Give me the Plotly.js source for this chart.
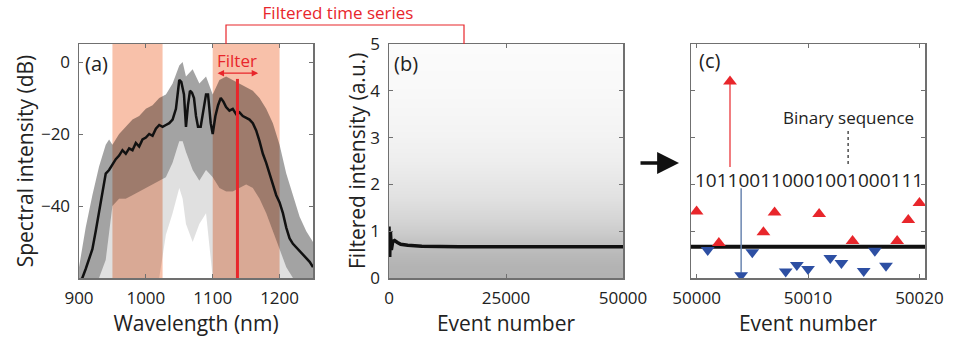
<!DOCTYPE html>
<html>
<head>
<meta charset="utf-8">
<script src="https://cdn.plot.ly/plotly-3.0.1.min.js"></script>
<style>html,body{margin:0;padding:0;background:#fff;}#chart{width:954px;height:337px;}</style>
</head>
<body>
<div id="chart"></div>
<script>
// ---------- Panel (a): spectra ----------
const meanWl = [900,905,910,915,920,925,930,935,940,945,950,955,960,965,970,975,980,985,990,995,1000,1005,1010,1015,1020,1025,1030,1035,1040,1045,1050,1053,1057,1060,1063,1066,1069,1072,1075,1078,1082,1086,1090,1093,1097,1100,1104,1108,1112,1116,1120,1125,1130,1135,1140,1145,1150,1155,1160,1165,1170,1175,1180,1185,1190,1195,1200,1205,1210,1215,1220,1225,1230,1235,1240,1245,1250];
const meanDb = [-61,-60,-57.5,-55,-52,-47,-42,-36,-31,-30,-28.5,-27,-26,-24.5,-25.5,-24,-24.5,-22.5,-23.5,-21.5,-21,-20,-20.5,-18.5,-17.5,-18,-17.5,-17,-16,-13,-5,-5.5,-9,-18,-12,-8,-8.5,-10,-15,-18,-18,-14,-9,-9,-17,-20,-15,-12,-10,-11,-12.5,-13.5,-13,-14.5,-14,-15,-15.5,-16,-17,-19,-22,-25.5,-28,-31,-34,-37,-39,-42,-46,-49,-50.5,-51.5,-52.5,-53.5,-54.5,-55.5,-57];
const envWl = [900,910,920,930,940,945,950,960,970,980,990,1000,1010,1020,1030,1040,1050,1055,1060,1070,1080,1090,1100,1110,1120,1130,1140,1150,1160,1170,1180,1190,1200,1210,1220,1230,1240,1250];
const upperDb = [-57,-46,-37,-29,-23,-21.5,-23,-20,-18,-16,-15,-13,-12,-10,-9,-6,-1,0,-4,-2,-6,-4,-9,-5,-4,-5,-6,-7,-8,-10,-13,-17,-23,-31,-37,-43,-47,-50];
const denseLowerDb = [-60,-60,-60,-60,-55,-48,-40,-38,-38,-37,-36,-35,-34,-33,-32,-28,-22,-22,-25,-30,-33,-30,-32,-35,-36,-36,-35,-34,-35,-38,-42,-47,-52,-57,-60,-60,-60,-60];
const sparseLowerDb = [-60,-60,-60,-60,-60,-60,-60,-60,-60,-60,-60,-60,-60,-60,-48,-42,-35,-38,-45,-50,-45,-42,-60,-60,-60,-60,-60,-60,-60,-60,-60,-60,-60,-60,-60,-60,-60,-60];
const bandsWl = [[950,1025],[1100,1200]];
const filterWl = 1137;
const filterTopDb = -4.7;

// ---------- Panel (b): filtered time series ----------
const intensityLevels = [0,0.25,0.5,0.75,1,1.25,1.5,1.75,2,2.25,2.5,2.75,3,3.25,3.5,3.75,4,4.25,4.5,4.75,5];
const pointDensity = [0.58,0.57,0.53,0.46,0.38,0.32,0.27,0.22,0.19,0.16,0.13,0.11,0.095,0.08,0.07,0.06,0.05,0.045,0.04,0.035,0.03];
const runEvents = [0,150,300,500,800,1200,1800,2500,4000,7000,15000,30000,50000];
const runMean = [1.1,0.45,1.0,0.6,0.78,0.8,0.76,0.72,0.7,0.68,0.67,0.67,0.67];

// ---------- Panel (c): binarisation ----------
const cEvents = [50000,50001,50002,50003,50004,50005,50006,50007,50008,50009,50010,50011,50012,50013,50014,50015,50016,50017,50018,50019,50020];
const cValues = [1.42,0.6,0.75,4.2,0.06,0.55,0.98,1.4,0.14,0.28,0.19,1.37,0.43,0.32,0.79,0.15,0.58,0.26,0.79,1.24,1.6];
const threshold = 0.67;

const FONT = "Open Sans, Lato, sans-serif";
const RED = '#e8262b';
const BLUE = '#2d4fa3';
const AX = '#707070';

const hiX = [], hiY = [], loX = [], loY = [];
cEvents.forEach((e,i)=>{ if (cValues[i] > threshold){hiX.push(e);hiY.push(cValues[i]);} else {loX.push(e);loY.push(cValues[i]);} });
const bits = cValues.map(v => v > threshold ? '1' : '0').join('');

const traces = [
  {x: envWl, y: sparseLowerDb, xaxis:'x', yaxis:'y', mode:'lines', line:{width:0}, hoverinfo:'skip', showlegend:false},
  {x: envWl, y: denseLowerDb, xaxis:'x', yaxis:'y', mode:'lines', line:{width:0}, fill:'tonexty', fillcolor:'rgba(0,0,0,0.12)', showlegend:false},
  {x: envWl, y: upperDb, xaxis:'x', yaxis:'y', mode:'lines', line:{width:0}, fill:'tonexty', fillcolor:'rgba(0,0,0,0.36)', showlegend:false},
  {x: meanWl, y: meanDb, xaxis:'x', yaxis:'y', mode:'lines', line:{color:'#111', width:2.5}, showlegend:false},
  {x: [filterWl, filterWl], y: [filterTopDb, -60], xaxis:'x', yaxis:'y', mode:'lines', line:{color:RED, width:3}, showlegend:false},

  {type:'heatmap', x:[0,50000], y:intensityLevels, z: pointDensity.map(d=>[d,d]), xaxis:'x2', yaxis:'y2', zsmooth:'best',
   colorscale:[[0,'#ffffff'],[1,'#7a7a7a']], zmin:0, zmax:1, showscale:false, hoverinfo:'skip'},
  {x: runEvents, y: runMean, xaxis:'x2', yaxis:'y2', mode:'lines', line:{color:'#111', width:3.5}, showlegend:false},

  {x: [cEvents[0]-0.5, cEvents[cEvents.length-1]+0.5], y:[threshold, threshold], xaxis:'x3', yaxis:'y3', mode:'lines', line:{color:'#111', width:4}, showlegend:false},
  {x: [cEvents[3], cEvents[3]], y: [cValues[3]-0.05, 2.37], xaxis:'x3', yaxis:'y3', mode:'lines', line:{color:RED, width:1.2}, showlegend:false},
  {x: [cEvents[4], cEvents[4]], y: [1.92, cValues[4]+0.05], xaxis:'x3', yaxis:'y3', mode:'lines', line:{color:'#6b86b0', width:1.5}, showlegend:false},
  {x: [50013.6, 50013.6], y: [3.14, 2.39], xaxis:'x3', yaxis:'y3', mode:'lines', line:{color:'#222', width:1.2, dash:'dot'}, showlegend:false},
  {x: hiX, y: hiY, xaxis:'x3', yaxis:'y3', mode:'markers', marker:{symbol:'triangle-up', size:12, color:RED}, showlegend:false},
  {x: loX, y: loY, xaxis:'x3', yaxis:'y3', mode:'markers', marker:{symbol:'triangle-down', size:12, color:BLUE}, showlegend:false}
];

const W = 954, H = 337;
const px = v => v / W, py = v => 1 - v / H;
const yDom = [py(278), py(44)];
function axBase(extra){
  return Object.assign({showline:true, linecolor:AX, linewidth:1.5, mirror:'ticks', ticks:'inside', ticklen:4, tickcolor:AX, tickwidth:1,
    zeroline:false, showgrid:false, tickfont:{family:FONT, size:17, color:'#222'}, ticklabelstandoff:4, tickformat:'d'}, extra);
}
const titleFont = {family:FONT, size:21, color:'#222'};

const layout = {
  width: W, height: H, margin:{l:0,r:0,t:0,b:0}, paper_bgcolor:'#fff', plot_bgcolor:'rgba(0,0,0,0)',
  font:{family:FONT, color:'#222'}, showlegend:false,
  title:{text:'Filtered time series', x:px(338), y:py(13), xanchor:'center', yanchor:'middle', xref:'paper', yref:'paper', font:{family:FONT, size:17, color:RED}},
  xaxis: axBase({domain:[px(79), px(313)], range:[900,1250], tickvals:[900,1000,1100,1200], title:{text:'Wavelength (nm)', font:titleFont, standoff:6}}),
  yaxis: axBase({domain:yDom, range:[-60,5], tickvals:[-40,-20,0], title:{text:'Spectral intensity (dB)', font:titleFont, standoff:1}}),
  xaxis2: axBase({domain:[px(389), px(623)], range:[0,50000], tickvals:[0,25000,50000], anchor:'y2', title:{text:'Event number', font:titleFont, standoff:6}}),
  yaxis2: axBase({domain:yDom, range:[0,5], tickvals:[0,1,2,3,4,5], anchor:'x2'}),
  xaxis3: axBase({domain:[px(691), px(925)], range:[49999.5,50020.5], tickvals:[50000,50010,50020], anchor:'y3', title:{text:'Event number', font:titleFont, standoff:6}}),
  yaxis3: axBase({domain:yDom, range:[0,5], tickvals:[1,2,3,4], showticklabels:false, anchor:'x3'}),
  shapes: [
    ...bandsWl.map(b => ({type:'rect', xref:'x', yref:'y', x0:b[0], x1:b[1], y0:-60, y1:5, fillcolor:'#f8c1aa', line:{width:0}, layer:'below'})),
    {type:'path', xref:'paper', yref:'paper', path:`M ${px(226)} ${py(44)} L ${px(226)} ${py(25)} L ${px(464)} ${py(25)} L ${px(464)} ${py(44)}`, line:{color:RED, width:1.2}}
  ],
  annotations: [
    {xref:'paper', yref:'paper', x:px(357), y:py(161), xanchor:'center', yanchor:'middle', textangle:-90, text:'Filtered intensity (a.u.)', showarrow:false, font:titleFont},
    {xref:'paper', yref:'paper', x:px(96), y:py(63), xanchor:'center', yanchor:'middle', text:'(a)', showarrow:false, font:{family:FONT, size:20, color:'#222'}},
    {xref:'paper', yref:'paper', x:px(406), y:py(63), xanchor:'center', yanchor:'middle', text:'(b)', showarrow:false, font:{family:FONT, size:20, color:'#222'}},
    {xref:'paper', yref:'paper', x:px(709), y:py(60), xanchor:'center', yanchor:'middle', text:'(c)', showarrow:false, font:{family:FONT, size:20, color:'#222'}},
    {xref:'x', yref:'y', x:filterWl, y:0.3, text:'Filter', showarrow:false, font:{family:FONT, size:17, color:RED}},
    {xref:'x', yref:'y', axref:'x', ayref:'y', x:1168, y:-3.1, ax:1105, ay:-3.1, text:'', showarrow:true, arrowside:'end+start', arrowhead:2, arrowsize:1, arrowwidth:1.3, arrowcolor:RED},
    {xref:'x3', yref:'y3', x:50013.6, y:3.42, text:'Binary sequence', showarrow:false, font:{family:FONT, size:17, color:'#222'}},
    {xref:'x3', yref:'y3', x:50010.1, y:2.09, text:bits, showarrow:false, font:{family:FONT, size:19, color:'#222'}},
    {xref:'paper', yref:'paper', x:px(679), y:py(163), ax:-40, ay:0, text:'', showarrow:true, arrowhead:2, arrowsize:1.25, arrowwidth:3.5, arrowcolor:'#111'}
  ]
};

Plotly.newPlot('chart', traces, layout, {staticPlot:true, displayModeBar:false});
</script>
</body>
</html>
